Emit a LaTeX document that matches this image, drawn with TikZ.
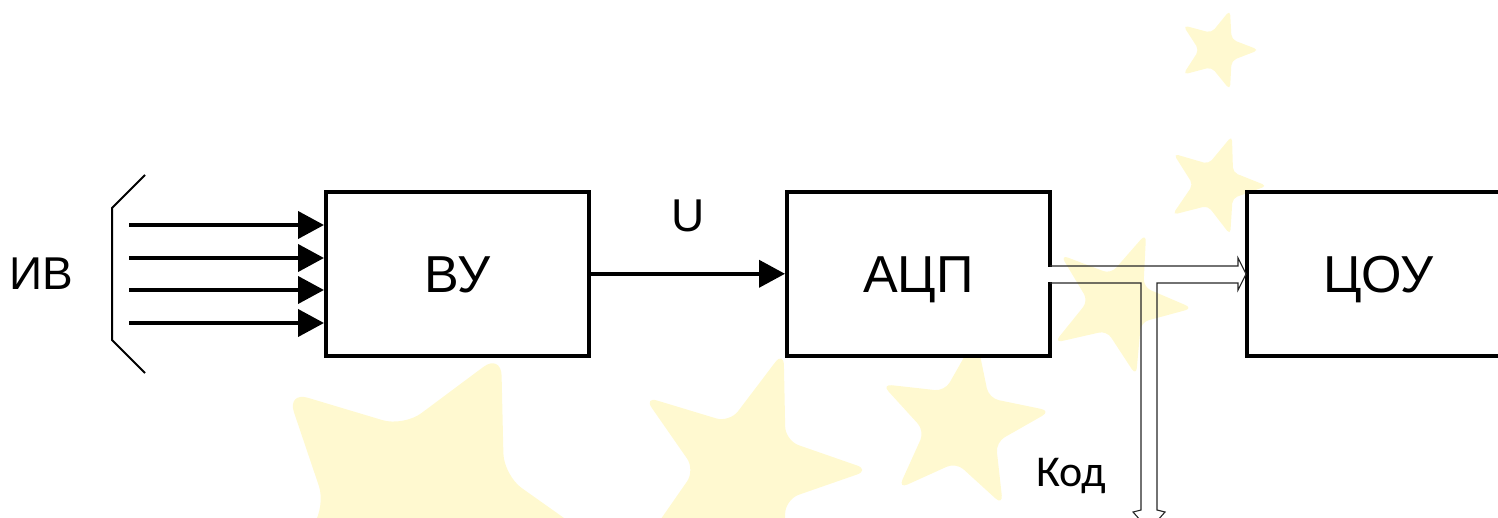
\documentclass[tikz,border=0pt]{standalone}
\usepackage{fontspec}
\setmainfont{Liberation Sans}
\newfontfamily\kodfont{Carlito}
\usetikzlibrary{arrows.meta,calc}
\definecolor{staryellow}{RGB}{255,249,208}
% cx, cy, R, r, rotation, roundness
\newcommand{\wstar}[6]{%
  \fill[staryellow, rounded corners=#6]
    ([shift={(#1,#2)}]{#5}:#3) -- ([shift={(#1,#2)}]{#5+36}:#4) --
    ([shift={(#1,#2)}]{#5+72}:#3) -- ([shift={(#1,#2)}]{#5+108}:#4) --
    ([shift={(#1,#2)}]{#5+144}:#3) -- ([shift={(#1,#2)}]{#5+180}:#4) --
    ([shift={(#1,#2)}]{#5+216}:#3) -- ([shift={(#1,#2)}]{#5+252}:#4) --
    ([shift={(#1,#2)}]{#5+288}:#3) -- ([shift={(#1,#2)}]{#5+324}:#4) -- cycle;}
\begin{document}
\begin{tikzpicture}[x=1pt,y=-1pt,
  box/.style={draw, line width=4pt, fill=white, minimum width=263pt,
    minimum height=164pt, inner sep=0pt, font=\fontsize{52}{60}\selectfont,
    text height=37pt, text depth=0pt},
  thickarrow/.style={line width=4pt, -{Triangle[length=26pt,width=27pt]}},
  thinline/.style={line width=1.1pt, black!85, line join=miter},
  lbl/.style={inner sep=0pt, anchor=base, font=\fontsize{46}{54}\selectfont}]
\useasboundingbox (0,0) rectangle (1498,518);
\begin{scope}
  \clip (0,0) rectangle (1498,518);
  % background stars
  \wstar{420}{520}{185}{95}{-64}{22}
  \wstar{745}{470}{125}{50}{-72}{14}
  \wstar{962}{425}{90}{38}{-81}{10}
  \wstar{1118}{303}{75}{30}{-68}{8}
  \wstar{1215}{185}{52}{22}{-71}{5}
  \wstar{1217}{50}{42}{18}{-72}{5}

  % blocks
  \node[box] (vu)  at (457.5,273.8) {ВУ};
  \node[box] (adc) at (918.5,273.8) {АЦП};
  \node[box] (cou) at (1378.5,273.8) {ЦОУ};

  % labels
  \node[lbl] (iv) at (41,290) {ИВ};
  \node[lbl] (u) at (688,232) {U};
  \node[inner sep=0pt, anchor=base west, font=\kodfont\fontsize{44}{50}\selectfont] (kod) at (1036,486) {Код};

  % bracket
  \draw[line width=2pt] (145,175) -- (112,208) -- (112,340) -- (145,373);

  % input arrows
  \foreach \yy [count=\i] in {225,258,290,323} {
    \coordinate (in\i) at (129,\yy);
    \draw[thickarrow] (in\i) -- (vu.west |- in\i);
  }
  % U arrow
  \draw[thickarrow] (vu.east) -- (adc.west);

  % double (code bus) arrow
  \coordinate (ka) at (1050,266);
  \coordinate (kb) at (1050,283);
  \coordinate (kt) at (1246,274);
  \fill[white] (1046,267) rectangle (1054,282);
  \draw[thinline] (ka) -- (1238,266) -- (1238,258) -- (kt) -- (1238,290)
    -- (1238,283) -- (1157,283) -- (1157,510) -- (1165,512) -- (1149,530)
    -- (1133,512) -- (1141,510) -- (1141,283) -- (kb);
\end{scope}
\end{tikzpicture}
\end{document}
